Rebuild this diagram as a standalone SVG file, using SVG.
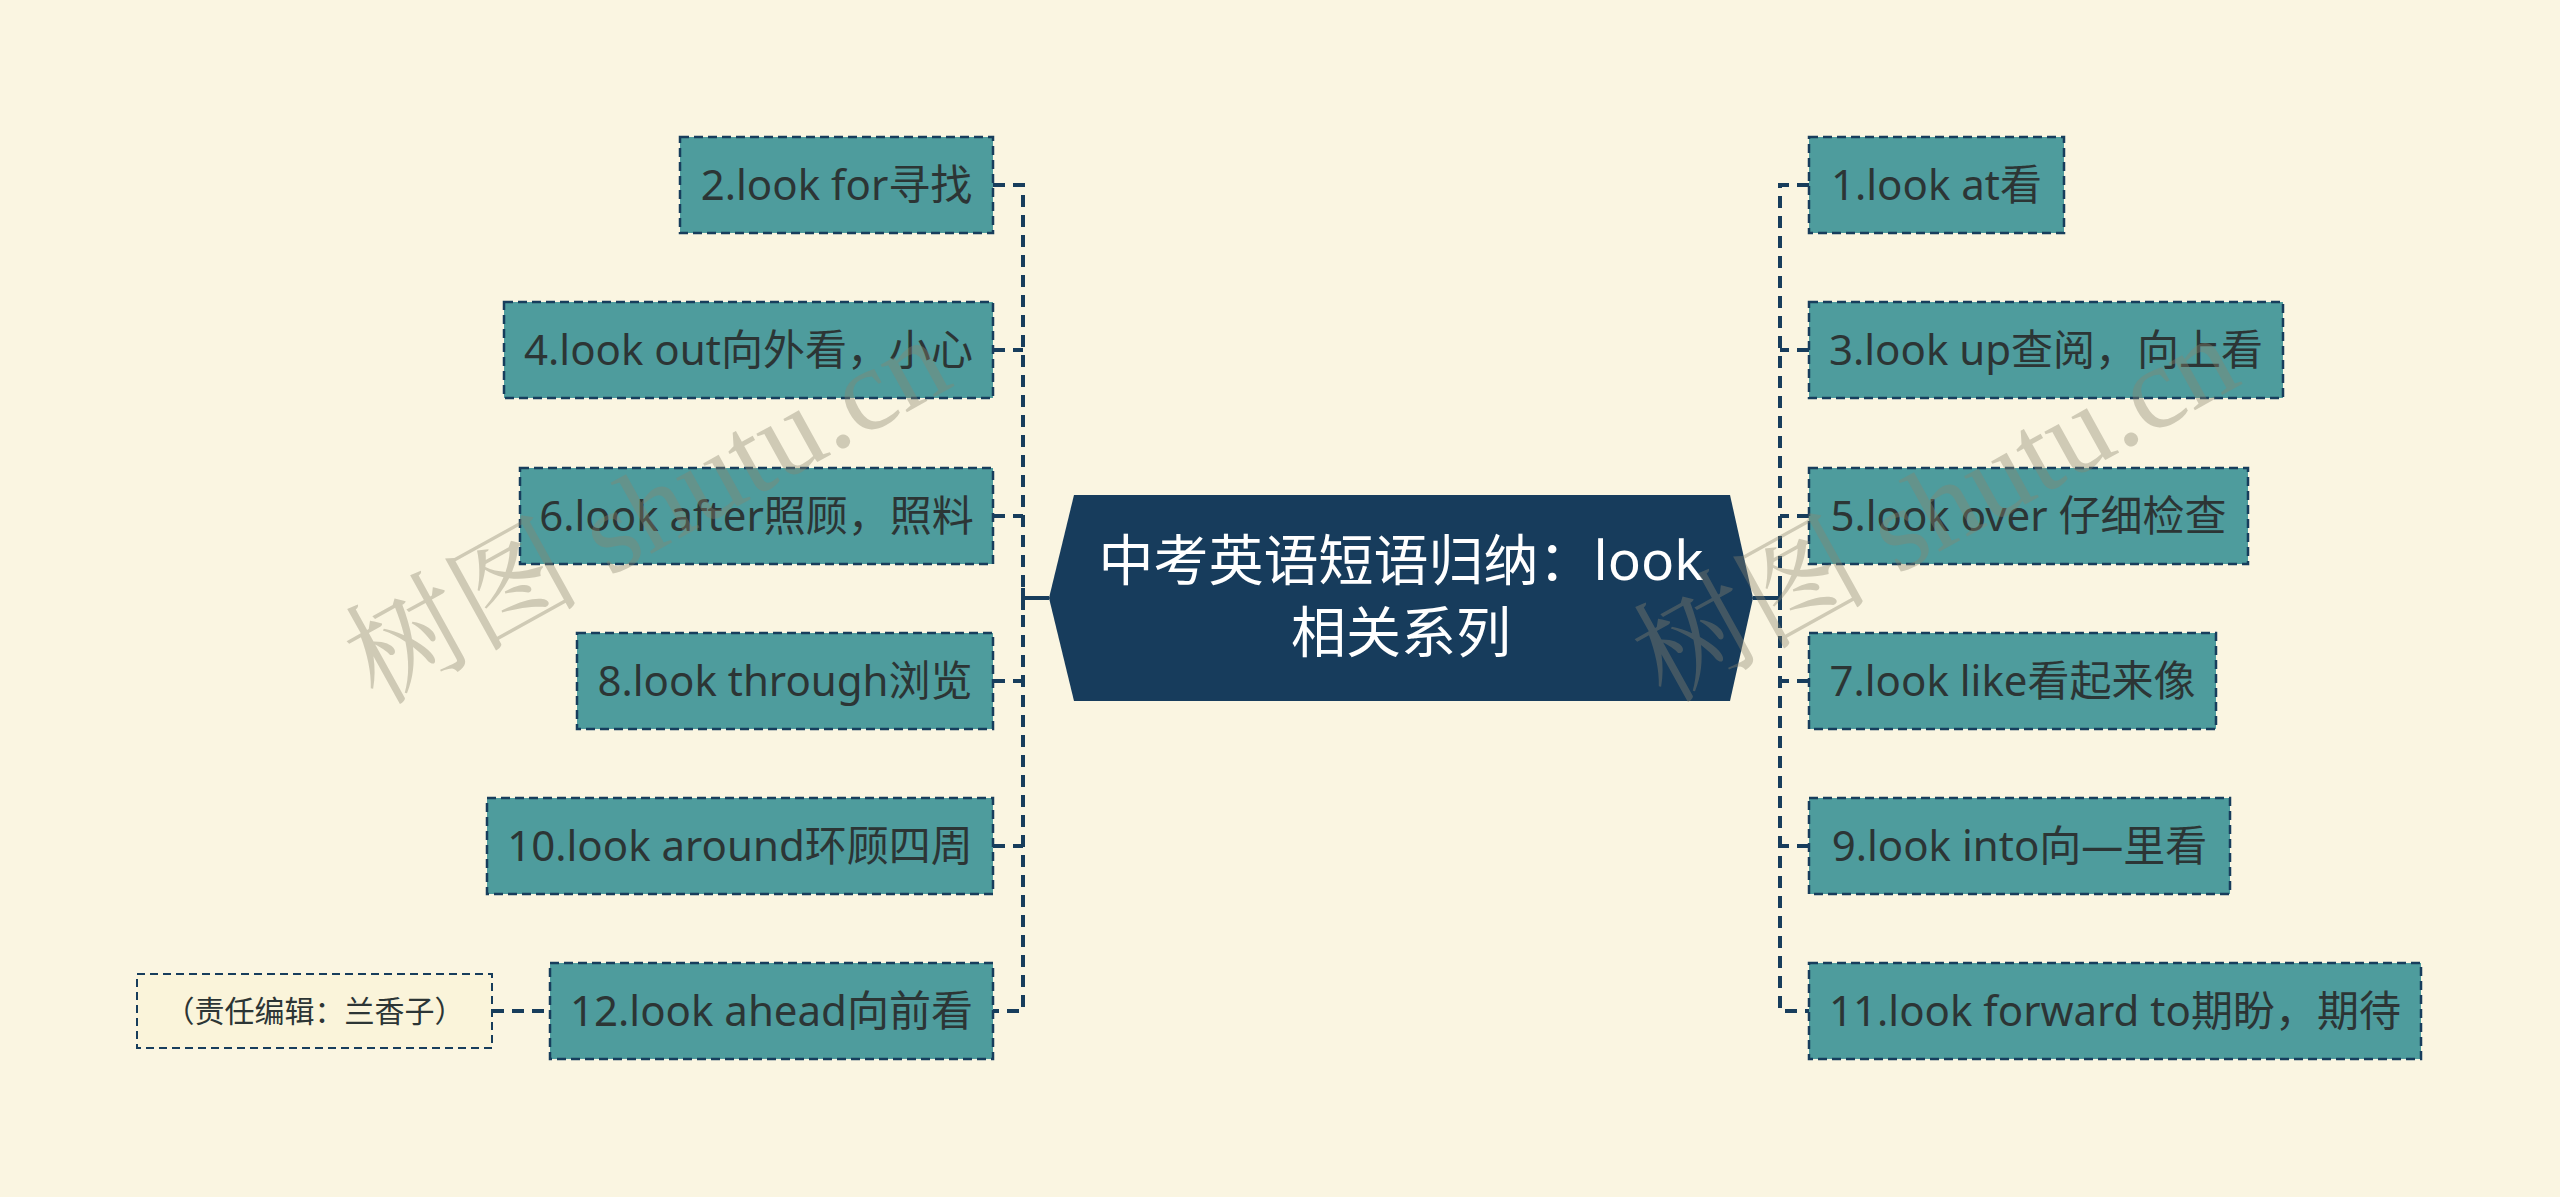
<svg xmlns="http://www.w3.org/2000/svg" width="2560" height="1197" viewBox="0 0 2560 1197">
<style>
.bg{fill:#faf5e1}
.node rect{fill:#4e9c9d;stroke:#173d5c;stroke-width:2.5;stroke-dasharray:9 5}
.node text{font-family:"Noto Sans","Noto Sans CJK SC",sans-serif;font-size:42px;fill:#2c3535;text-anchor:middle}
.conn{fill:none;stroke:#173d5c;stroke-width:4;stroke-dasharray:12 8}
.solid{fill:none;stroke:#173d5c;stroke-width:4}
.center text{font-family:"Noto Sans","Noto Sans CJK SC",sans-serif;font-size:55px;fill:#ffffff;text-anchor:middle}
.note rect{fill:#faf4da;stroke:#173d5c;stroke-width:2;stroke-dasharray:8 5}
.note text{font-family:"Noto Sans CJK SC",sans-serif;font-size:30px;fill:#2c3535;text-anchor:middle}
.wm{font-family:"Liberation Serif","Noto Serif CJK SC","Noto Sans CJK SC",serif;font-size:118px;fill:#8a8570;opacity:0.38}
</style>
<rect class="bg" x="0" y="0" width="2560" height="1197"/>
<g id="connectors">
<path class="conn" d="M993 185H1023V1011H993 M993 350H1023 M993 516H1023 M993 681H1023 M993 846H1023"/>
<path class="solid" d="M1023 598H1049 M1023 588V610"/>
<path class="conn" d="M1809 185H1780V1011H1809 M1809 350H1780 M1809 516H1780 M1809 681H1780 M1809 846H1780"/>
<path class="solid" d="M1753 598H1780 M1780 588V610"/>
<path class="conn" d="M492 1011H550"/>
</g>
<g id="center" class="center">
<polygon points="1074,495 1730,495 1753,598 1730,701 1074,701 1049,598" fill="#173c5c"/>
<text x="1401" y="580">中考英语短语归纳：look</text>
<text x="1401" y="652">相关系列</text>
</g>
<g id="n2" class="node"><rect x="680" y="137" width="313" height="96"/><text x="836.5" y="200">2.look for寻找</text></g>
<g id="n4" class="node"><rect x="504" y="302" width="489" height="96"/><text x="748.5" y="365">4.look out向外看，小心</text></g>
<g id="n6" class="node"><rect x="520" y="468" width="473" height="96"/><text x="756.5" y="531">6.look after照顾，照料</text></g>
<g id="n8" class="node"><rect x="577" y="633" width="416" height="96"/><text x="785" y="696">8.look through浏览</text></g>
<g id="n10" class="node"><rect x="487" y="798" width="506" height="96"/><text x="740" y="861">10.look around环顾四周</text></g>
<g id="n12" class="node"><rect x="550" y="963" width="443" height="96"/><text x="771.5" y="1026">12.look ahead向前看</text></g>
<g id="n1" class="node"><rect x="1809" y="137" width="255" height="96"/><text x="1936.5" y="200">1.look at看</text></g>
<g id="n3" class="node"><rect x="1809" y="302" width="474" height="96"/><text x="2046" y="365">3.look up查阅，向上看</text></g>
<g id="n5" class="node"><rect x="1809" y="468" width="439" height="96"/><text x="2028.5" y="531">5.look over 仔细检查</text></g>
<g id="n7" class="node"><rect x="1809" y="633" width="407" height="96"/><text x="2012.5" y="696">7.look like看起来像</text></g>
<g id="n9" class="node"><rect x="1809" y="798" width="421" height="96"/><text x="2019.5" y="861">9.look into向—里看</text></g>
<g id="n11" class="node"><rect x="1809" y="963" width="612" height="96"/><text x="2115" y="1026">11.look forward to期盼，期待</text></g>
<g id="note" class="note"><rect x="137" y="974" width="355" height="74"/><text x="314.5" y="1022">（责任编辑：兰香子）</text></g>
<g id="watermark">
<text class="wm" transform="translate(377,706) rotate(-29)">树图 shutu.cn</text>
<text class="wm" transform="translate(1665,704) rotate(-29)">树图 shutu.cn</text>
</g>
</svg>
